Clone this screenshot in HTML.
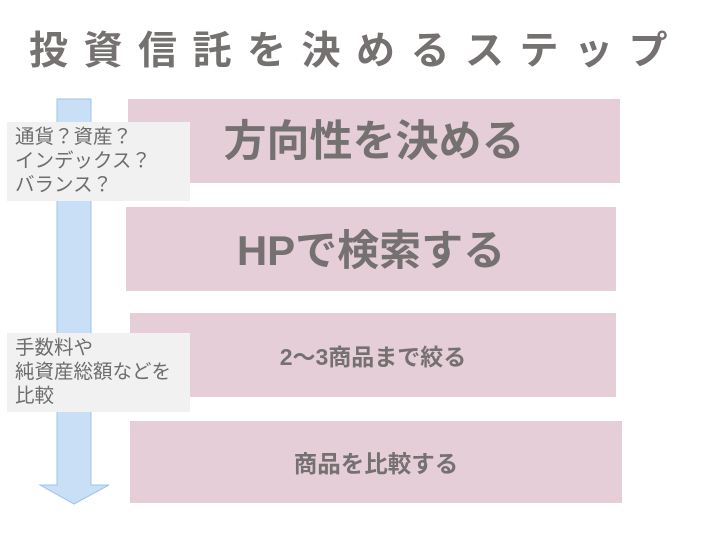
<!DOCTYPE html>
<html><head><meta charset="utf-8"><style>
body{margin:0;width:720px;height:540px;background:#fff;position:relative;overflow:hidden;font-family:"Liberation Sans","Noto Sans CJK JP",sans-serif;}
.a{position:absolute}
.box{position:absolute;background:#e6ced9;color:#767171;font-weight:bold;display:flex;align-items:center;justify-content:center;white-space:nowrap;box-sizing:border-box}
.call{position:absolute;background:#f1f1f1;color:#6d6d6d;font-size:19.5px;line-height:24px;padding:3px 0 0 8px;box-sizing:border-box;white-space:nowrap}
</style></head><body>
<div class="a" style="left:29px;top:28px;font-size:39px;font-weight:bold;color:#767171;letter-spacing:15.5px;white-space:nowrap;line-height:48px">投資信託を決めるステップ</div>
<svg class="a" style="left:0;top:0" width="720" height="540">
<polygon points="57,99 91,99 91,485 109,485 74,504 40,485 57,485" fill="#c9dff5" stroke="#9fc3ea" stroke-width="1"/>
</svg>
<div class="box" style="left:128px;top:99px;width:492px;height:84px;font-size:43px;padding-bottom:6px">方向性を決める</div>
<div class="box" style="left:126px;top:207px;width:490px;height:84px;font-size:42px;padding-bottom:4px">HPで検索する</div>
<div class="box" style="left:130px;top:313px;width:486px;height:84px;font-size:23px">2～3商品まで絞る</div>
<div class="box" style="left:130px;top:421px;width:492px;height:82px;font-size:23.5px">商品を比較する</div>
<div class="call" style="left:7px;top:122px;width:183px;height:79px">通貨？資産？<br>インデックス？<br>バランス？</div>
<div class="call" style="left:7px;top:333px;width:183px;height:79px">手数料や<br>純資産総額などを<br>比較</div>
</body></html>
